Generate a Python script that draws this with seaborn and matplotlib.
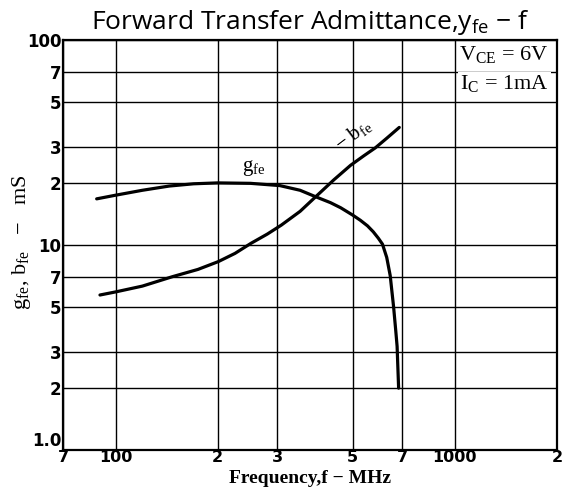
# forward transfer admittance y_fe vs frequency, datasheet style log-log chart
import matplotlib
matplotlib.use("Agg")
import matplotlib.pyplot as plt
import seaborn as sns
import pandas as pd

# curve values (MHz, mS)
gfe_freq = [88, 100, 120, 144, 170, 200, 250, 305, 350, 389, 430, 461, 500, 527,
            553, 575, 595, 612, 630, 645, 660, 670, 676, 683]
gfe_val = [16.8, 17.5, 18.5, 19.4, 19.9, 20.1, 20.0, 19.5, 18.5, 17.2, 16.1, 15.2, 14.0, 13.2,
           12.4, 11.6, 10.8, 10.1, 8.7, 7.1, 5.0, 3.8, 3.2, 2.0]
bfe_freq = [90, 100, 120, 147, 175, 201, 225, 251, 280, 308, 350, 389, 440, 493,
            540, 583, 630, 686]
bfe_val = [5.7, 5.9, 6.3, 7.0, 7.6, 8.3, 9.1, 10.2, 11.3, 12.5, 14.6, 17.2, 20.8, 24.5,
           27.3, 29.8, 33.2, 37.5]

x_ticks = [70, 100, 200, 300, 500, 700, 1000, 2000]
x_labels = ['7', '100', '2', '3', '5', '7', '1000', '2']
y_ticks = [1, 2, 3, 5, 7, 10, 20, 30, 50, 70, 100]
y_labels = ['1.0', '2', '3', '5', '7', '10', '2', '3', '5', '7', '100']

df_g = pd.DataFrame({'f': gfe_freq, 'y': gfe_val})
df_b = pd.DataFrame({'f': bfe_freq, 'y': bfe_val})

sns.set_style("white")
plt.rcParams['mathtext.fontset'] = 'custom'
plt.rcParams['mathtext.rm'] = 'Liberation Serif'
plt.rcParams['mathtext.sf'] = 'Open Sans'
for key in ['text.color', 'axes.labelcolor', 'xtick.color', 'ytick.color']:
    plt.rcParams[key] = 'black'

fig = plt.figure(figsize=(5.62, 4.9), dpi=100)
ax = fig.add_axes([0.112, 0.082, 0.879, 0.836])

sns.lineplot(data=df_g, x='f', y='y', ax=ax, color='black', linewidth=2.3, sort=False)
sns.lineplot(data=df_b, x='f', y='y', ax=ax, color='black', linewidth=2.3, sort=False)

ax.set_xscale('log')
ax.set_yscale('log')
ax.set_xlim(70, 2000)
ax.set_ylim(1, 100)
ax.minorticks_off()
ax.set_xticks(x_ticks)
ax.set_xticklabels(x_labels, fontweight='bold', fontsize=11.5, family='DejaVu Sans')
ax.set_yticks(y_ticks)
ax.set_yticklabels(y_labels, fontweight='bold', fontsize=12, family='DejaVu Sans')
ax.get_yticklabels()[0].set_va('bottom')
ax.tick_params(length=0, pad=1)
ax.tick_params(axis='x', pad=0)
ax.grid(True, color='black', linewidth=1.0)
for s in ax.spines.values():
    s.set_color('black')
    s.set_linewidth(1.6)

ax.set_xlabel('Frequency,f − MHz', family='Liberation Serif', fontsize=14, fontweight='bold')
ax.xaxis.set_label_coords(0.5, -0.07)
ax.xaxis.label.set_va('center')
ax.set_ylabel(r'g$_{\mathrm{fe}}$, b$_{\mathrm{fe}}$   −   mS', family='Liberation Serif',
              fontsize=16)
ax.yaxis.set_label_coords(-0.083, 0.507)
ax.yaxis.label.set_va('center')
ax.set_title(r'Forward Transfer Admittance,y$_{\mathsf{fe}}$ − f', family='Open Sans',
             fontsize=19, pad=8, color='black')

# curve labels
ax.text(255, 21.3, r'g$_{\mathrm{fe}}$', family='Liberation Serif', fontsize=15,
        ha='center', va='bottom')
ax.text(505, 34.5, r'− b$_{\mathrm{fe}}$', family='Liberation Serif', fontsize=15,
        ha='center', va='center', rotation=37)

# test conditions
ax.text(0.983, 0.99, r'V$_{\mathrm{CE}}$ = 6V', transform=ax.transAxes, family='Liberation Serif',
        fontsize=16, ha='right', va='top',
        bbox=dict(facecolor='white', edgecolor='none', pad=1.5))
ax.text(0.983, 0.918, r'I$_{\mathrm{C}}$ = 1mA', transform=ax.transAxes, family='Liberation Serif',
        fontsize=16, ha='right', va='top',
        bbox=dict(facecolor='white', edgecolor='none', pad=1.5))

fig.savefig("out.png", dpi=100)
